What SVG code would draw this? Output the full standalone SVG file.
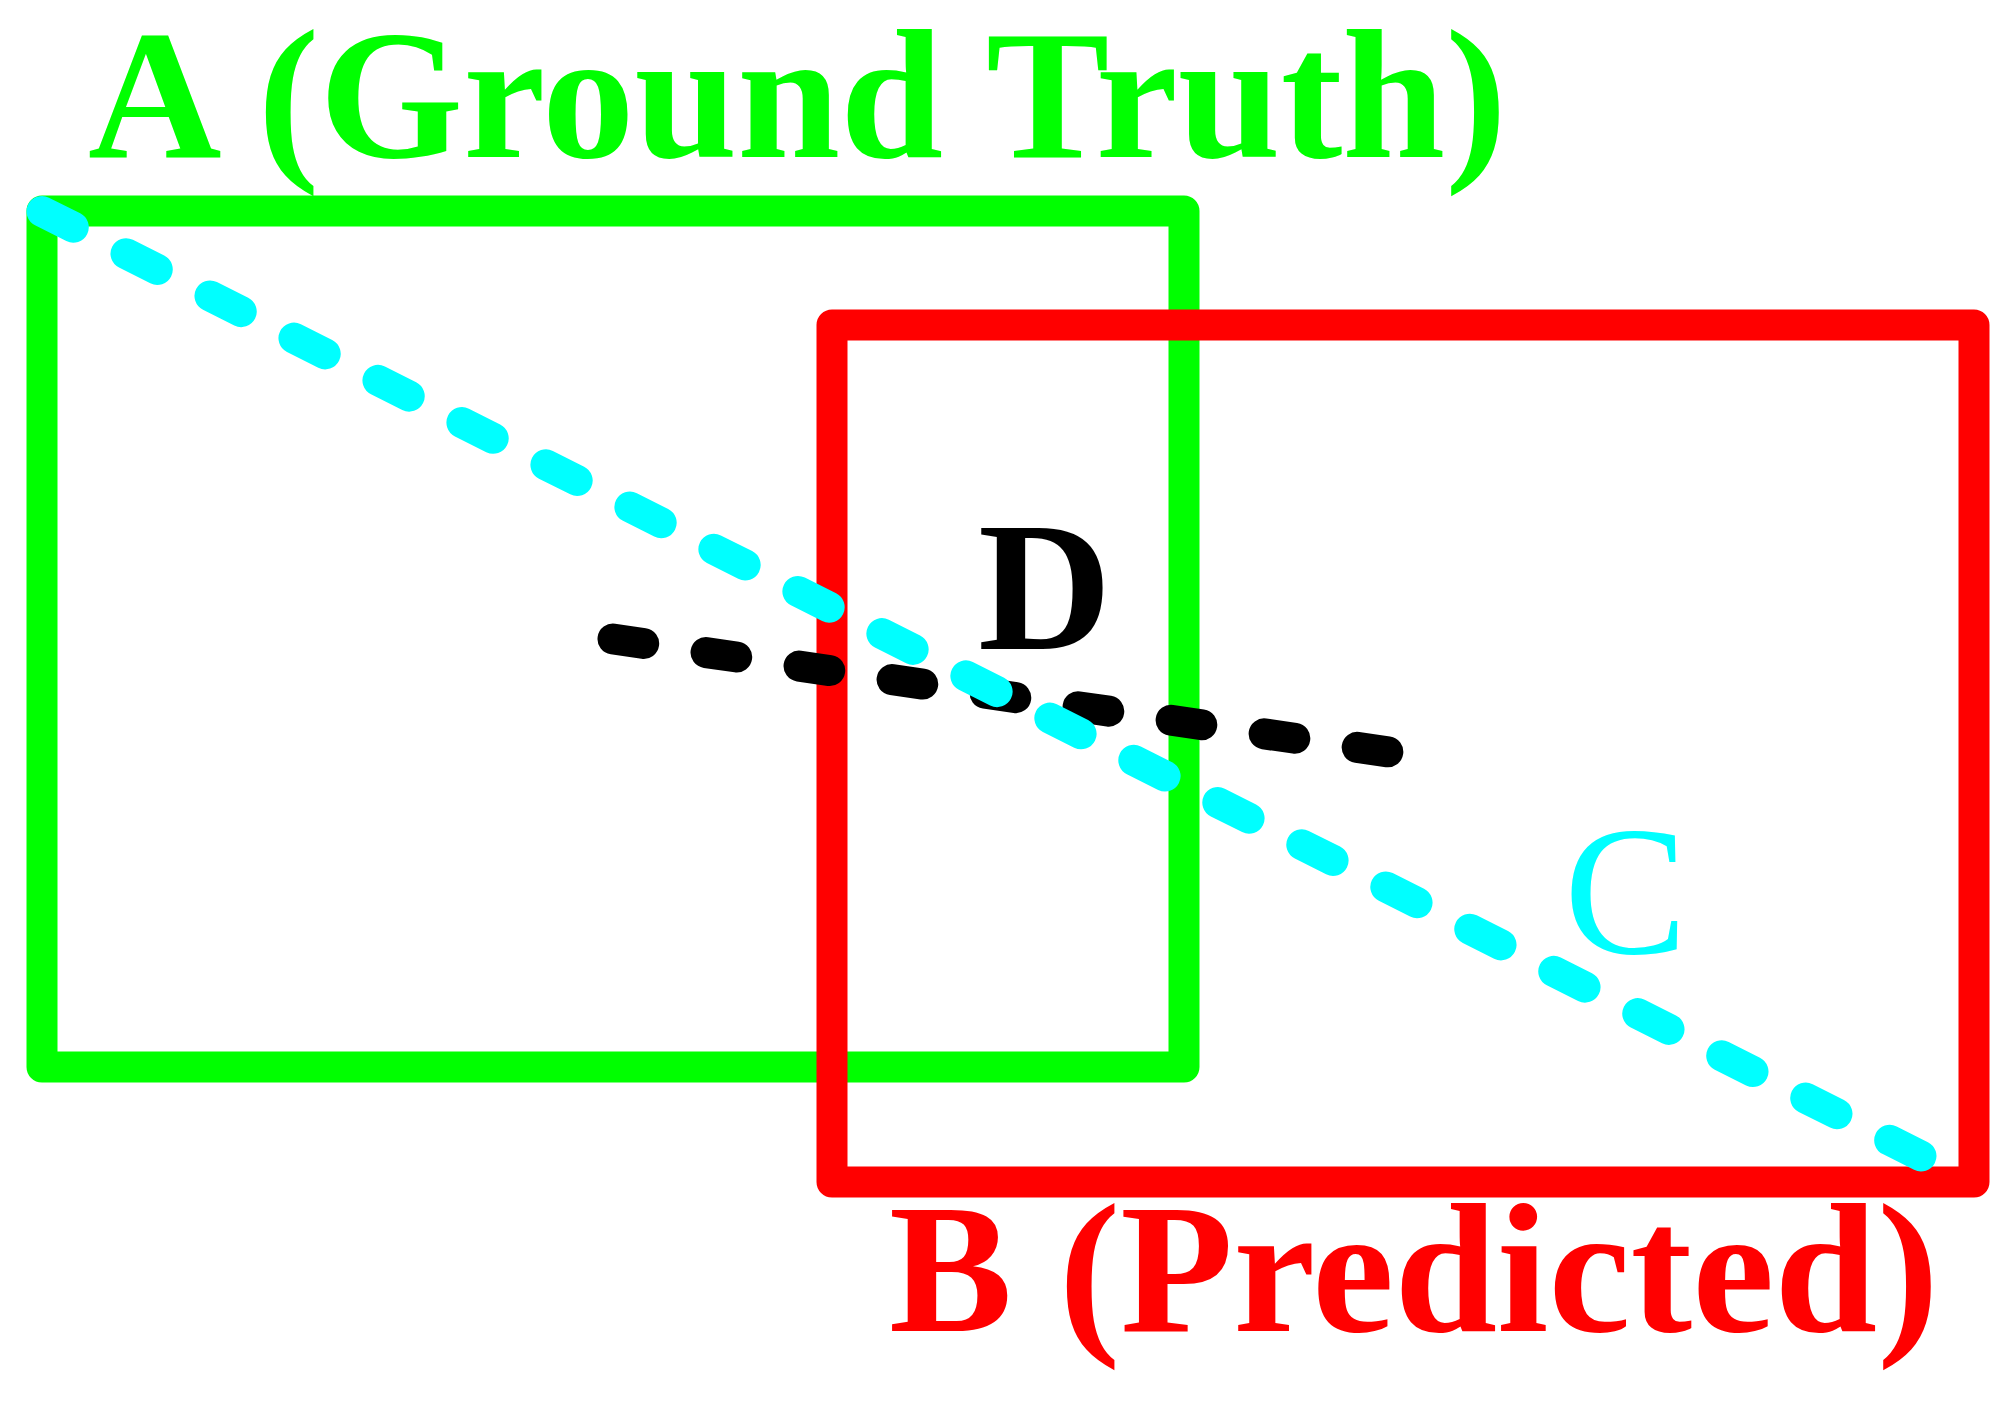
<svg xmlns="http://www.w3.org/2000/svg" width="2015" height="1402" viewBox="0 0 2015 1402">
<style>
.box{fill:none;stroke-width:31;stroke-linejoin:round}
.dash{fill:none;stroke-width:31;stroke-linecap:round}
.lbl{font-family:"Liberation Serif","Times New Roman",serif;font-size:185px}
</style>
<rect width="2015" height="1402" fill="#ffffff"/>
<g id="nodeA">
<rect class="box" x="42" y="211" width="1142" height="856" stroke="#00ff00"/>
<text class="lbl" x="88" y="157" fill="#00ff00" font-weight="bold">A (Ground Truth)</text>
</g>
<g id="nodeB">
<rect class="box" x="832" y="325" width="1142" height="857" stroke="#ff0000"/>
<text class="lbl" x="889" y="1331" fill="#ff0000" font-weight="bold" font-size="183">B (Predicted)</text>
</g>
<g id="connectors">
<line id="D" class="dash" x1="613" y1="639" x2="1389" y2="752" stroke="#000000" stroke-dasharray="31 63"/>
<line id="C" class="dash" x1="42" y1="211.5" x2="1925" y2="1158" stroke="#00ffff" stroke-dasharray="35 59"/>
</g>
<g id="labelD">
<text class="lbl" x="978" y="649" fill="#000000" font-weight="bold" font-size="180">D</text>
</g>
<g id="labelC">
<text class="lbl" x="1564" y="953" fill="#00ffff" font-size="198">C</text>
</g>
</svg>
